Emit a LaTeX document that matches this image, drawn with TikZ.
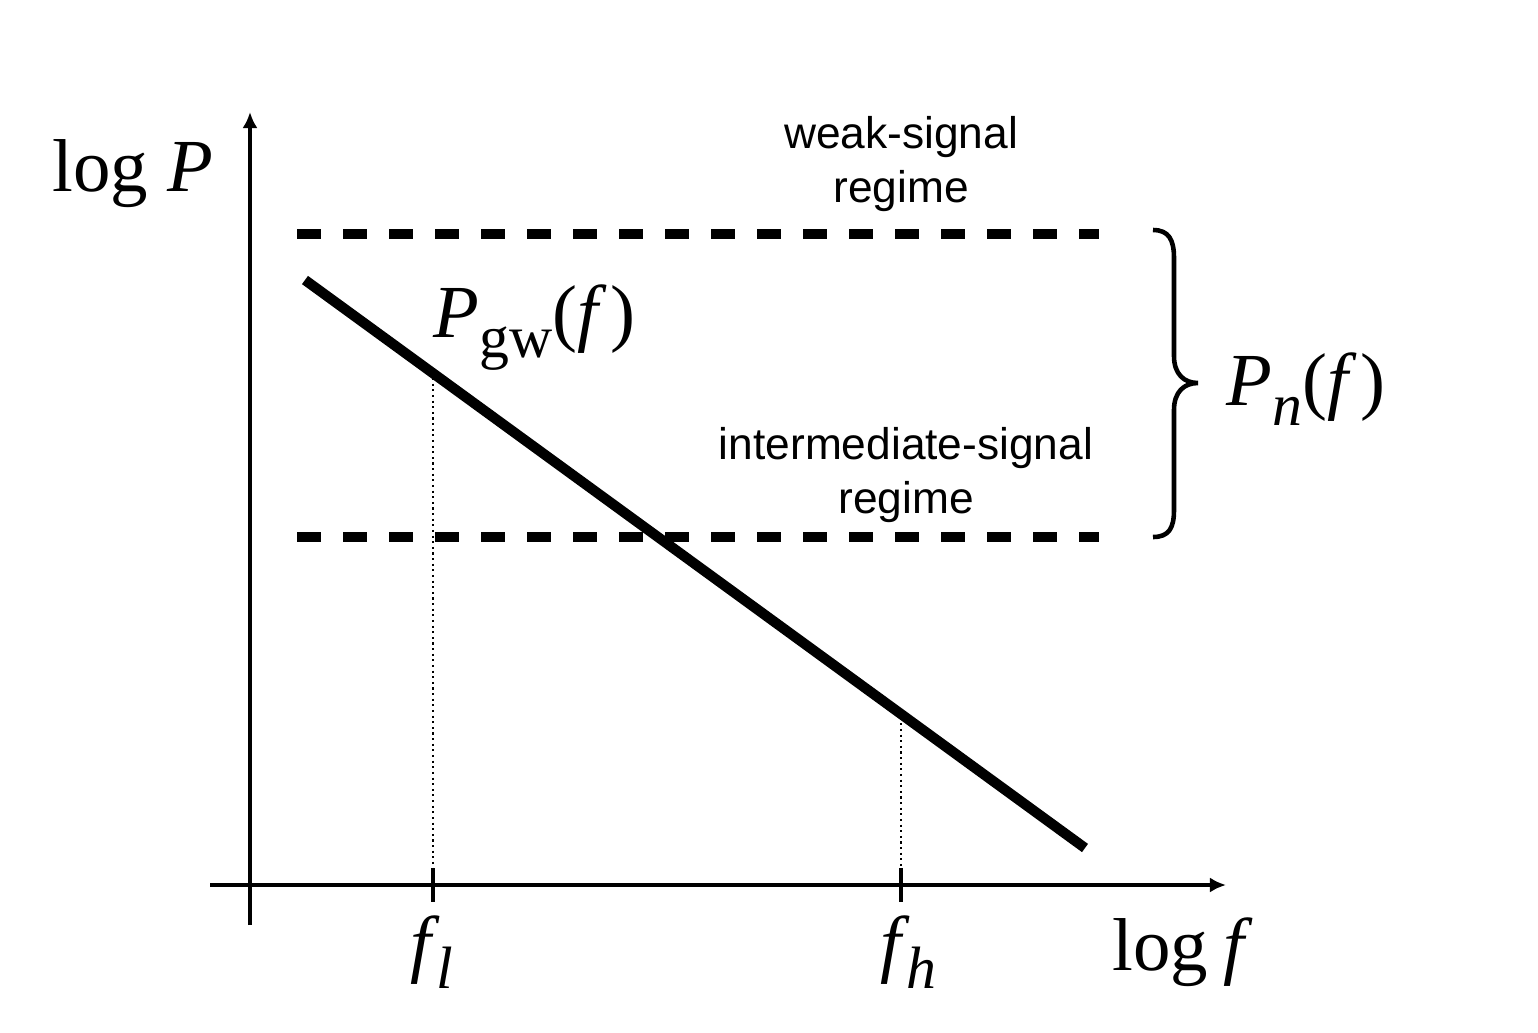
\documentclass[tikz,border=0pt]{standalone}
\usepackage{fontspec}
\setmainfont{Liberation Serif}
\newfontfamily\regimefont{Liberation Sans}
\usepackage{tikz}
\usetikzlibrary{arrows.meta}
\tikzset{
	axis line/.style={line width=1pt,-{Latex[length=0.16cm,width=0.15cm]}},
	tick line/.style={line width=1pt},
	big label/.style={inner sep=0pt,anchor=base west,font=\fontsize{21.3}{25}\selectfont},
	regime label/.style={inner sep=0pt,align=center,font=\regimefont\fontsize{12.6}{15.1}\selectfont},
	level line/.style={line width=3.1pt,dash pattern=on 0.235cm off 0.225cm},
	drop line/.style={densely dotted,line width=0.6pt}
}
\newcommand{\lowsub}[1]{\raisebox{-0.2cm}{\fontsize{17}{20}\selectfont #1}}

\begin{document}
\begin{tikzpicture}[x=0.01cm,y=-0.01cm]
            \useasboundingbox (0,0) rectangle (1538,1032);
            % axes
            \coordinate (o) at (250,885);
            \coordinate (ybot) at (250,925);
            \coordinate (ytop) at (250,112);
            \coordinate (xleft) at (210,885);
            \coordinate (xright) at (1226,885);
            \draw [axis line] (ybot) -- (ytop);
            \draw [axis line] (xleft) -- (xright);
            \node [big label] (ylab) at (52,191) {log \textit{P}};
            \node [big label] (xlab) at (1112,970) {log\kern0.2em\textit{f}};
            % noise levels
            \coordinate (hi1) at (297,234);
            \coordinate (hi2) at (1099,234);
            \coordinate (lo1) at (297,537);
            \coordinate (lo2) at (1099,537);
            \draw [level line] (hi1) -- (hi2);
            \draw [level line] (lo1) -- (lo2);
            % signal
            \coordinate (gw1) at (305,280);
            \coordinate (gw2) at (1085,848);
            \draw [line width=2.9pt] (gw1) -- (gw2);
            \node [big label] (gwlab) at (433,337) {\textit{P}\lowsub{gw}(\textit{f\/}\kern0.05em)};
            % band edges
            \coordinate (fltop) at (433,378);
            \coordinate (flaxis) at (433,885);
            \coordinate (fhtop) at (901,712);
            \coordinate (fhaxis) at (901,885);
            \draw [drop line] (fltop) -- (flaxis);
            \draw [drop line] (fhtop) -- (fhaxis);
            \draw [tick line] (433,868) -- (433,902);
            \draw [tick line] (901,868) -- (901,902);
            \node [big label] (fl) at (410,968) {\textit{f}\kern-0.05em\lowsub{\textit{l}}};
            \node [big label] (fh) at (880,968) {\textit{f}\kern-0.05em\lowsub{\textit{h}}};
            % regimes
            \node [regime label] (weak) at (901,164) {weak-signal\\regime};
            \node [regime label] (inter) at (906,475) {intermediate-signal\\regime};
            % brace
            \draw [line width=1.3pt] (1153,230) .. controls (1169,230) and (1174,240) .. (1174,258)
              -- (1174,356) .. controls (1174,374) and (1184,383) .. (1198,383)
              .. controls (1184,383) and (1174,392) .. (1174,410)
              -- (1174,510) .. controls (1174,528) and (1169,537) .. (1153,537);
            \node [big label] (nlab) at (1226,405) {\textit{P}\lowsub{\textit{n}}(\textit{f\/}\kern0.05em)};
          \end{tikzpicture}
\end{document}
